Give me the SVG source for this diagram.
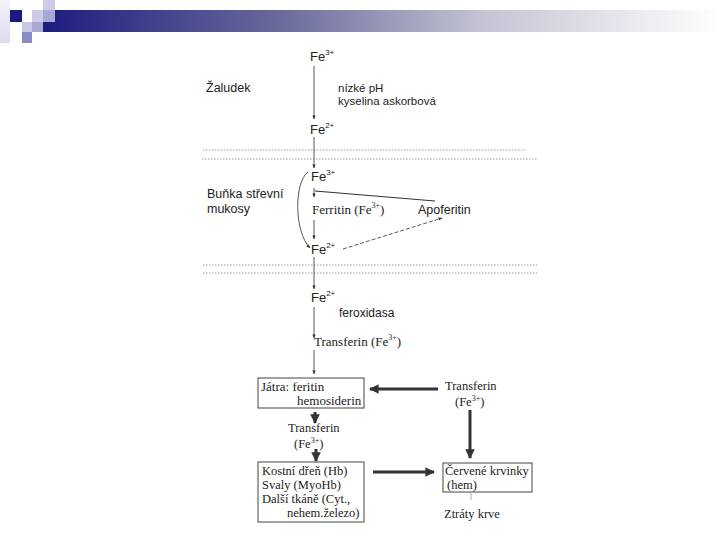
<svg xmlns="http://www.w3.org/2000/svg" width="720" height="540" viewBox="0 0 720 540">
<defs>
<linearGradient id="bar" x1="0" y1="0" x2="1" y2="0">
<stop offset="0" stop-color="#1c1c7e"/>
<stop offset="0.35" stop-color="#6a6a9c"/>
<stop offset="0.65" stop-color="#c4c4d4"/>
<stop offset="1" stop-color="#ffffff"/>
</linearGradient>
<linearGradient id="pale" x1="0" y1="0" x2="0" y2="1">
<stop offset="0" stop-color="#f4f4fa"/>
<stop offset="1" stop-color="#dcdcee"/>
</linearGradient>
<marker id="ah" viewBox="0 0 10 10" refX="9" refY="5" markerWidth="4" markerHeight="4" orient="auto" markerUnits="userSpaceOnUse">
<path d="M0,1 L10,5 L0,9 z" fill="#333"/>
</marker>
<marker id="ahb" viewBox="0 0 10 10" refX="9" refY="5" markerWidth="3.2" markerHeight="3.2" orient="auto">
<path d="M0,0 L10,5 L0,10 z" fill="#333"/>
</marker>
</defs>
<style>
.sans{font-family:"Liberation Sans",Arial,sans-serif;fill:#222}
.serif{font-family:"Liberation Serif","Times New Roman",serif;fill:#222}
.sup{font-size:8px}
.thin{stroke:#444;stroke-width:0.9;fill:none}
.thick{stroke:#333;stroke-width:3;fill:none}
.dot{stroke:#9a9a9a;stroke-width:1;stroke-dasharray:1.5 1.5;fill:none}
.box{fill:#fff;stroke:#444;stroke-width:1}
</style>
<rect width="720" height="540" fill="#fff"/>
<!-- header decoration -->
<rect x="43" y="10" width="677" height="22" fill="url(#bar)"/>
<rect x="0" y="0" width="10" height="43" fill="url(#pale)"/>
<rect x="10" y="10" width="12" height="12" fill="#1a1a80"/>
<rect x="32" y="10" width="11" height="12" fill="#ccccE6"/>
<rect x="43" y="0" width="12" height="10" fill="#ccccE6"/>
<rect x="43" y="10" width="12" height="12" fill="#a8a8d4"/>
<rect x="22" y="22" width="10" height="10" fill="#c8c8e4"/>
<rect x="32" y="22" width="11" height="10" fill="#a8a8d4"/>
<rect x="22" y="32" width="10" height="11" fill="#8a8ac4"/>
<!-- separators -->
<g id="separators">
<line class="dot" x1="203" y1="150" x2="525" y2="150"/>
<line class="dot" x1="202" y1="159" x2="537" y2="159"/>
<line class="dot" x1="203" y1="265" x2="537" y2="265"/>
<line class="dot" x1="203" y1="273" x2="537" y2="273"/>
</g>
<g id="connectors">
<line class="thin" x1="314" y1="66" x2="314" y2="119" marker-end="url(#ah)"/>
<line class="thin" x1="314" y1="137" x2="314" y2="168" marker-end="url(#ah)"/>
<path class="thin" d="M308,172 C294,182 294,232 310,248" marker-end="url(#ah)"/>
<line class="thin" x1="314" y1="188" x2="314" y2="197" marker-end="url(#ah)"/>
<line x1="315" y1="191" x2="435" y2="201" stroke="#333" stroke-width="1.2"/>
<line class="thin" x1="314" y1="220" x2="314" y2="239" marker-end="url(#ah)"/>
<line class="thin" x1="343" y1="249" x2="442" y2="218" stroke-dasharray="4 2" marker-end="url(#ah)"/>
<line class="thin" x1="314" y1="257" x2="314" y2="289" marker-end="url(#ah)"/>
<line class="thin" x1="314" y1="307" x2="314" y2="338" marker-end="url(#ah)"/>
<line class="thin" x1="314" y1="350" x2="314" y2="374" marker-end="url(#ah)"/>
<line class="thick" x1="438" y1="389" x2="370" y2="389" marker-end="url(#ahb)"/>
<line class="thick" x1="470" y1="410" x2="470" y2="458" marker-end="url(#ahb)"/>
<line class="thick" x1="315" y1="412" x2="315" y2="423" marker-end="url(#ahb)"/>
<line class="thick" x1="316" y1="449" x2="316" y2="461" marker-end="url(#ahb)"/>
<line class="thick" x1="373" y1="472" x2="434" y2="472" marker-end="url(#ahb)"/>
<line stroke="#999" stroke-width="0.8" x1="471" y1="493" x2="471" y2="500"/>
</g>
<g id="fe3-top"><text class="sans" x="310" y="61" font-size="13">Fe<tspan class="sup" dy="-6">3+</tspan></text></g>
<g id="zaludek"><text class="sans" x="206" y="92" font-size="12.5">Žaludek</text></g>
<g id="ph"><text class="sans" x="338" y="92" font-size="11.5">nízké pH</text><text class="sans" x="338" y="105" font-size="11.5">kyselina askorbová</text></g>
<g id="fe2-a"><text class="sans" x="310" y="134" font-size="13">Fe<tspan class="sup" dy="-6">2+</tspan></text></g>
<g id="fe3-b"><text class="sans" x="311" y="181" font-size="13">Fe<tspan class="sup" dy="-6">3+</tspan></text></g>
<g id="bunka"><text class="sans" x="207" y="198" font-size="12.5">Buňka střevní</text><text class="sans" x="207" y="213" font-size="12.5">mukosy</text></g>
<g id="ferritin"><text class="serif" x="312" y="214" font-size="13">Ferritin (Fe<tspan class="sup" dy="-6">3+</tspan><tspan dy="6">)</tspan></text></g>
<g id="apoferitin"><text class="sans" x="418" y="214" font-size="12.5">Apoferitin</text></g>
<g id="fe2-b"><text class="sans" x="311" y="254" font-size="13">Fe<tspan class="sup" dy="-6">2+</tspan></text></g>
<g id="fe2-c"><text class="sans" x="311" y="302" font-size="13">Fe<tspan class="sup" dy="-6">2+</tspan></text></g>
<g id="feroxidasa"><text class="sans" x="339" y="317" font-size="12">feroxidasa</text></g>
<g id="transferin-a"><text class="serif" x="314" y="346" font-size="13">Transferin (Fe<tspan class="sup" dy="-6">3+</tspan><tspan dy="6">)</tspan></text></g>
<g id="jatra">
<rect class="box" x="258" y="378" width="106" height="30"/>
<text class="serif" x="261" y="391" font-size="13">Játra: feritin</text>
<text class="serif" x="297" y="405" font-size="13">hemosiderin</text>
</g>
<g id="transferin-b"><text class="serif" x="445" y="390" font-size="12.5">Transferin</text><text class="serif" x="455" y="406" font-size="12.5">(Fe<tspan class="sup" dy="-5">3+</tspan><tspan dy="5">)</tspan></text></g>
<g id="transferin-c"><text class="serif" x="288" y="432" font-size="12.5">Transferin</text><text class="serif" x="294" y="448" font-size="12.5">(Fe<tspan class="sup" dy="-5">3+</tspan><tspan dy="5">)</tspan></text></g>
<g id="kostni">
<rect class="box" x="258" y="462" width="106" height="60"/>
<text class="serif" x="262" y="475" font-size="12.5">Kostní dřeň (Hb)</text>
<text class="serif" x="262" y="489" font-size="12.5">Svaly (MyoHb)</text>
<text class="serif" x="262" y="503" font-size="12.5">Další tkáně (Cyt.,</text>
<text class="serif" x="287" y="517" font-size="12.5">nehem.železo)</text>
</g>
<g id="cervene">
<rect class="box" x="443" y="463" width="89" height="29"/>
<text class="serif" x="445" y="475" font-size="12.5">Červené krvinky</text>
<text class="serif" x="447" y="489" font-size="12.5">(hem)</text>
</g>
<g id="ztraty"><text class="serif" x="444" y="518" font-size="12.5">Ztráty krve</text></g>
</svg>
